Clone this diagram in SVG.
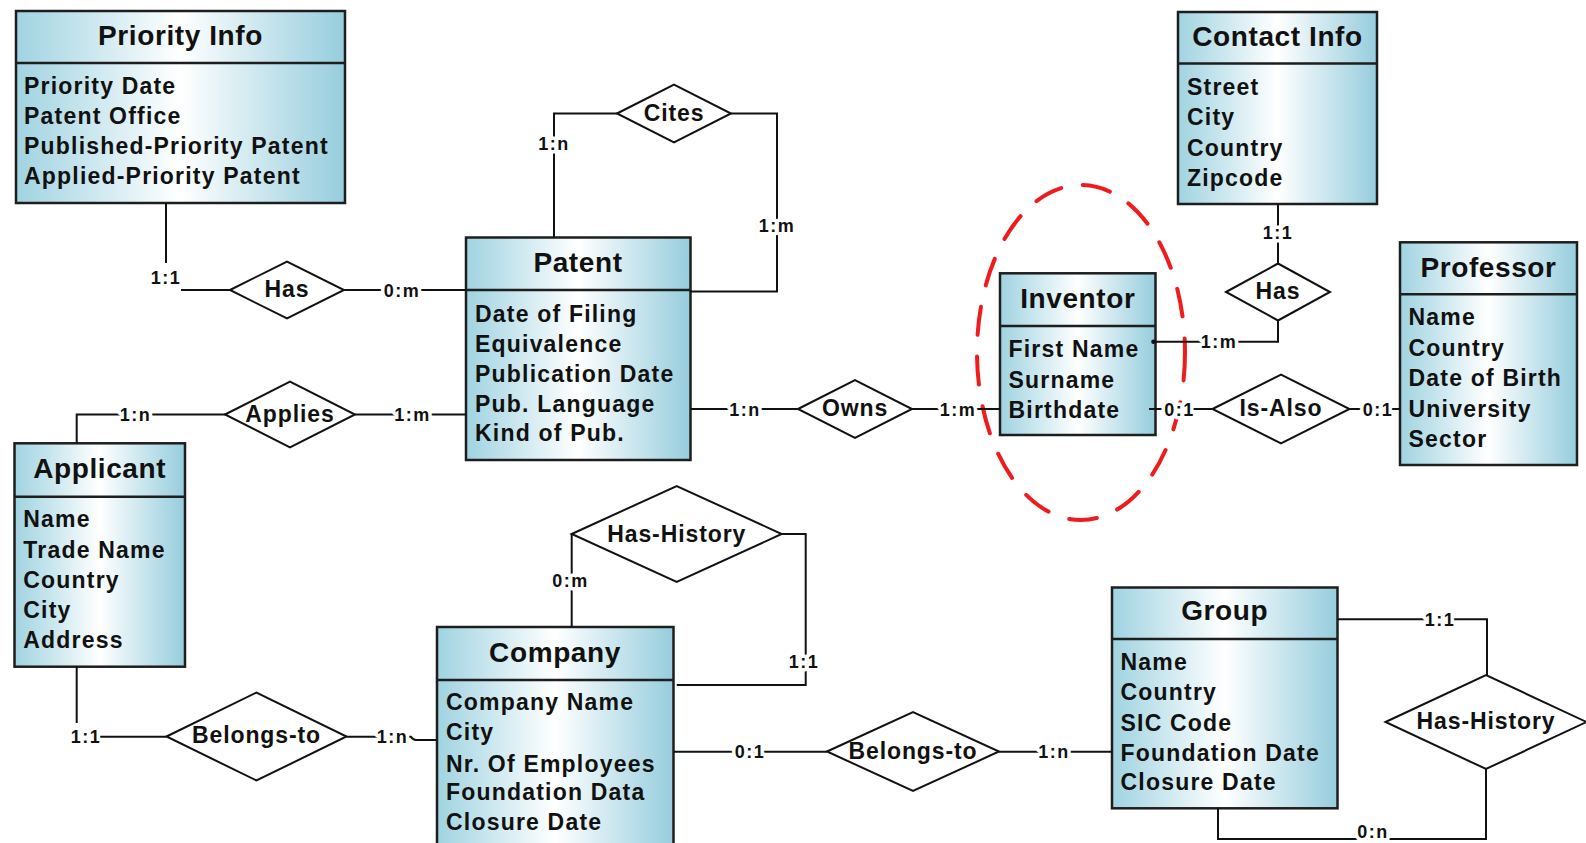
<svg xmlns="http://www.w3.org/2000/svg" width="1586" height="843" viewBox="0 0 1586 843">
  <defs>
    <linearGradient id="entFill" x1="0" y1="0" x2="1" y2="0">
      <stop offset="0" stop-color="#a0d3e1"/>
      <stop offset="0.5" stop-color="#ffffff"/>
      <stop offset="1" stop-color="#96cddd"/>
    </linearGradient>
    <style>
      .box { fill: url(#entFill); stroke: #1e1e1e; stroke-width: 2.5; }
      .sep { stroke: #1e1e1e; stroke-width: 2.5; }
      text { font-family: "Liberation Sans", Arial, sans-serif; font-weight: bold; fill: #111; }
      .title { font-size: 28px; letter-spacing: 0.6px; text-anchor: middle; }
      .attr { font-size: 23px; letter-spacing: 1.2px; }
      .rel polygon { fill: #fff; stroke: #111; stroke-width: 2; }
      .rel text { font-size: 23px; letter-spacing: 0.9px; text-anchor: middle; }
      .wire { fill: none; stroke: #111; stroke-width: 2; }
      .card { font-size: 18px; letter-spacing: 1.5px; text-anchor: middle; stroke: #fff; stroke-width: 7; stroke-linejoin: round; paint-order: stroke; }
      .mark { fill: none; stroke: #ee1c1c; stroke-width: 4; stroke-dasharray: 28 22; stroke-linecap: round; }
    </style>
  </defs>

  <rect width="1586" height="843" fill="#fff"/>

  <!-- entities -->
  <g id="priority-info">
    <rect class="box" x="16" y="11" width="329" height="192"/>
    <line class="sep" x1="16" y1="63" x2="345" y2="63"/>
    <text class="title" x="180.5" y="45">Priority Info</text>
    <text class="attr" x="24" y="94">Priority Date</text>
    <text class="attr" x="24" y="124">Patent Office</text>
    <text class="attr" x="24" y="154">Published-Priority Patent</text>
    <text class="attr" x="24" y="184">Applied-Priority Patent</text>
  </g>

  <g id="contact-info">
    <rect class="box" x="1178" y="12" width="199" height="192"/>
    <line class="sep" x1="1178" y1="63.5" x2="1377" y2="63.5"/>
    <text class="title" x="1277.5" y="46">Contact Info</text>
    <text class="attr" x="1187" y="95">Street</text>
    <text class="attr" x="1187" y="125">City</text>
    <text class="attr" x="1187" y="155.5">Country</text>
    <text class="attr" x="1187" y="185.5">Zipcode</text>
  </g>

  <g id="patent">
    <rect class="box" x="466" y="237.5" width="224.5" height="222.5"/>
    <line class="sep" x1="466" y1="290" x2="690.5" y2="290"/>
    <text class="title" x="578" y="271.5">Patent</text>
    <text class="attr" x="475" y="321.5">Date of Filing</text>
    <text class="attr" x="475" y="352">Equivalence</text>
    <text class="attr" x="475" y="381.5">Publication Date</text>
    <text class="attr" x="475" y="411.5">Pub. Language</text>
    <text class="attr" x="475" y="441">Kind of Pub.</text>
  </g>

  <g id="inventor">
    <rect class="box" x="1000" y="273.3" width="155.5" height="161.7"/>
    <line class="sep" x1="1000" y1="326" x2="1155.5" y2="326"/>
    <text class="title" x="1077.8" y="308">Inventor</text>
    <text class="attr" x="1008.5" y="357.3">First Name</text>
    <text class="attr" x="1008.5" y="387.7">Surname</text>
    <text class="attr" x="1008.5" y="417.7">Birthdate</text>
  </g>

  <g id="professor">
    <rect class="box" x="1400" y="242.3" width="177" height="222.7"/>
    <line class="sep" x1="1400" y1="294.3" x2="1577" y2="294.3"/>
    <text class="title" x="1488.5" y="276.7">Professor</text>
    <text class="attr" x="1408.5" y="325">Name</text>
    <text class="attr" x="1408.5" y="355.7">Country</text>
    <text class="attr" x="1408.5" y="386">Date of Birth</text>
    <text class="attr" x="1408.5" y="416.7">University</text>
    <text class="attr" x="1408.5" y="446.7">Sector</text>
  </g>

  <g id="applicant">
    <rect class="box" x="14.5" y="443.3" width="170.5" height="223.4"/>
    <line class="sep" x1="14.5" y1="496.7" x2="185" y2="496.7"/>
    <text class="title" x="99.7" y="478.3">Applicant</text>
    <text class="attr" x="23.3" y="526.7">Name</text>
    <text class="attr" x="23.3" y="558">Trade Name</text>
    <text class="attr" x="23.3" y="588">Country</text>
    <text class="attr" x="23.3" y="618">City</text>
    <text class="attr" x="23.3" y="648">Address</text>
  </g>

  <g id="company">
    <rect class="box" x="437" y="627" width="236.5" height="240"/>
    <line class="sep" x1="437" y1="680" x2="673.5" y2="680"/>
    <text class="title" x="555" y="661.7">Company</text>
    <text class="attr" x="446" y="710">Company Name</text>
    <text class="attr" x="446" y="740">City</text>
    <text class="attr" x="446" y="771.7">Nr. Of Employees</text>
    <text class="attr" x="446" y="800">Foundation Data</text>
    <text class="attr" x="446" y="830">Closure Date</text>
  </g>

  <g id="group">
    <rect class="box" x="1112" y="587.5" width="225.5" height="220.8"/>
    <line class="sep" x1="1112" y1="639" x2="1337.5" y2="639"/>
    <text class="title" x="1224.7" y="620">Group</text>
    <text class="attr" x="1120.5" y="670">Name</text>
    <text class="attr" x="1120.5" y="700">Country</text>
    <text class="attr" x="1120.5" y="730.7">SIC Code</text>
    <text class="attr" x="1120.5" y="760.7">Foundation Date</text>
    <text class="attr" x="1120.5" y="790">Closure Date</text>
  </g>

  <!-- relationships -->
  <g id="rel-has-priority" class="rel">
    <polygon points="230,290 287,261.5 344,290 287,318.5"/>
    <text x="287" y="297">Has</text>
  </g>
  <g id="rel-cites" class="rel">
    <polygon points="617,113.5 674,84.5 731,113.5 674,142.5"/>
    <text x="674" y="120.7">Cites</text>
  </g>
  <g id="rel-applies" class="rel">
    <polygon points="225,414.5 290,381.5 355,414.5 290,447.5"/>
    <text x="290" y="421.5">Applies</text>
  </g>
  <g id="rel-owns" class="rel">
    <polygon points="798,409 855,380 912,409 855,438"/>
    <text x="855" y="416">Owns</text>
  </g>
  <g id="rel-has-contact" class="rel">
    <polygon points="1226,292 1278,263.5 1330,292 1278,320.5"/>
    <text x="1278" y="298.5">Has</text>
  </g>
  <g id="rel-is-also" class="rel">
    <polygon points="1212.5,409 1281,374.5 1349.5,409 1281,443.5"/>
    <text x="1281" y="416">Is-Also</text>
  </g>
  <g id="rel-company-history" class="rel">
    <polygon points="571.7,534 676.7,486 781.7,534 676.7,582"/>
    <text x="676.7" y="541.7">Has-History</text>
  </g>
  <g id="rel-belongs-company" class="rel">
    <polygon points="166.5,736.5 256.5,692.5 346.5,736.5 256.5,780.5"/>
    <text x="256.5" y="743.3">Belongs-to</text>
  </g>
  <g id="rel-belongs-group" class="rel">
    <polygon points="827,751.5 913,712 999,751.5 913,791"/>
    <text x="913" y="758.5">Belongs-to</text>
  </g>
  <g id="rel-group-history" class="rel">
    <polygon points="1385.5,722 1486,675 1586.5,722 1486,769"/>
    <text x="1486" y="728.5">Has-History</text>
  </g>

  <!-- highlight round the inventor entity -->
  <ellipse id="inventor-highlight" class="mark" cx="1081" cy="352.5" rx="104" ry="167.5"/>

  <!-- connectors with cardinalities -->
  <g id="connectors">
    <path class="wire" d="M166,203 V263 M181,290 H230"/>
    <path class="wire" d="M344,290 H466"/>
    <path class="wire" d="M554,237.5 V113.5 H617"/>
    <path class="wire" d="M731,113.5 H777 V291.5 H690.5"/>
    <path class="wire" d="M76.7,443.3 V414.5 H225"/>
    <path class="wire" d="M355,414.5 H466"/>
    <path class="wire" d="M690.5,409 H798"/>
    <path class="wire" d="M912,409 H1000"/>
    <path class="wire" d="M1278,204 V263.5"/>
    <path class="wire" d="M1278,320.5 V341.7 H1153"/>
    <circle cx="1153.5" cy="341.7" r="2.3" fill="#111"/>
    <path class="wire" d="M1149,409 H1212.5"/>
    <path class="wire" d="M1349.5,409 H1400"/>
    <path class="wire" d="M571.7,534 V627"/>
    <path class="wire" d="M781.7,534 H805.7 V685 H676.7"/>
    <path class="wire" d="M76.7,666.7 V723 M100,736.7 H166.5"/>
    <path class="wire" d="M346.5,736.7 H411 Q413,740 416,740 H437"/>
    <path class="wire" d="M673.5,751.7 H827"/>
    <path class="wire" d="M999,751.7 H1112"/>
    <path class="wire" d="M1337.5,619.3 H1487 V675"/>
    <path class="wire" d="M1486,769 V839 H1218 V808.3"/>

    <text class="card" x="166" y="284">1:1</text>
    <text class="card" x="402" y="296.5">0:m</text>
    <text class="card" x="554" y="149.5">1:n</text>
    <text class="card" x="777" y="232">1:m</text>
    <text class="card" x="135.5" y="421">1:n</text>
    <text class="card" x="412.5" y="421">1:m</text>
    <text class="card" x="745" y="415.5">1:n</text>
    <text class="card" x="958" y="415.5">1:m</text>
    <text class="card" x="1278" y="238.5">1:1</text>
    <text class="card" x="1219" y="348">1:m</text>
    <text class="card" x="1179.5" y="415.5">0:1</text>
    <text class="card" x="1378" y="415.5">0:1</text>
    <text class="card" x="570.5" y="586.5">0:m</text>
    <text class="card" x="804" y="668">1:1</text>
    <text class="card" x="86" y="743">1:1</text>
    <text class="card" x="392.5" y="743">1:n</text>
    <text class="card" x="750" y="758">0:1</text>
    <text class="card" x="1054" y="758">1:n</text>
    <text class="card" x="1440" y="625.5">1:1</text>
    <text class="card" x="1373" y="838">0:n</text>
  </g>
</svg>
